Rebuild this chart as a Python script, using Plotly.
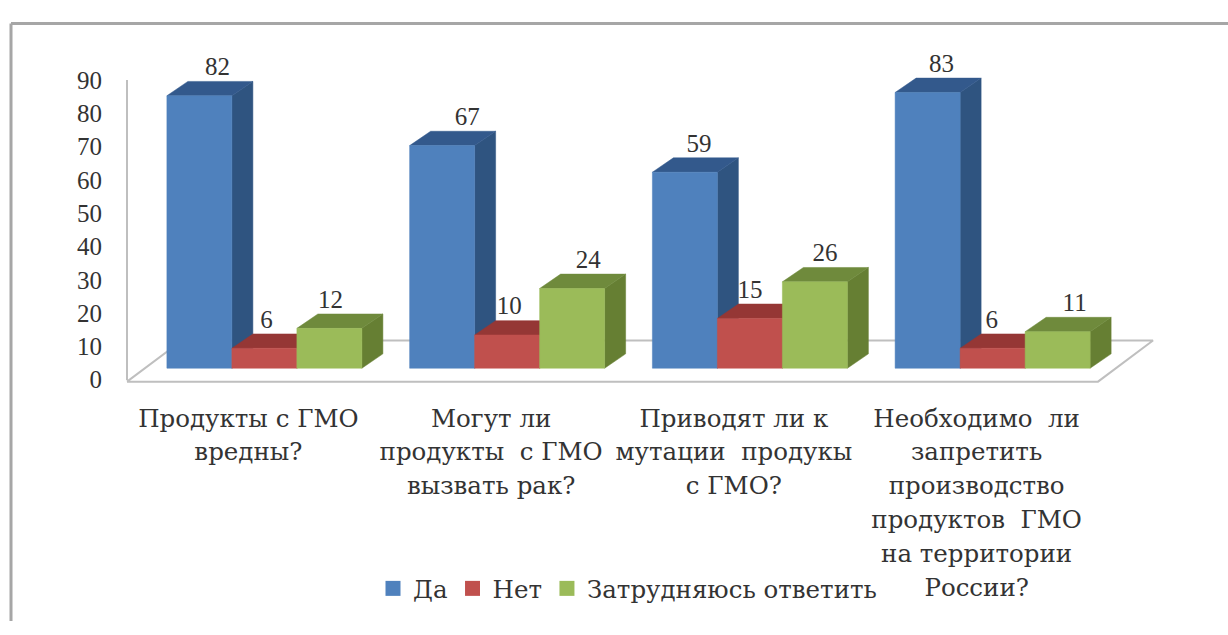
import plotly.graph_objects as go

categories = [
    ["Продукты с ГМО", "вредны?"],
    ["Могут ли", "продукты  с ГМО", "вызвать рак?"],
    ["Приводят ли к", "мутации  продукы", "с ГМО?"],
    ["Необходимо  ли", "запретить", "производство", "продуктов  ГМО", "на территории", "России?"],
]
series_names = ["Да", "Нет", "Затрудняюсь ответить"]
da = [82, 67, 59, 83]
net = [6, 10, 15, 6]
zatr = [12, 24, 26, 11]
y_ticks = [0, 10, 20, 30, 40, 50, 60, 70, 80, 90]

W, H = 1228, 635
PX_X = 242.75      # pixels per category
PX_Y = 3.47        # pixels per value unit
AX_LEFT, AX_BASE, AX_TOP = 127, 383, 70
BAR_BASE = 371
FONT = "Liberation Serif"
TEXT_FONT = "DejaVu Serif"
TEXT_COLOR = "#333333"
GRID = "#bfbfbf"

x_lo = -0.5 - AX_LEFT / PX_X
x_hi = x_lo + W / PX_X
y2_lo = -(H - BAR_BASE) / PX_Y
y2_hi = BAR_BASE / PX_Y

bar_w = 65 / PX_X
group_shift = 16 / PX_X
depth_x, depth_y = 21 / PX_X, 15 / PX_Y
floor_dx, floor_dy = 55 / PX_X, 43 / PX_Y
floor_y = -(385 - BAR_BASE) / PX_Y

styles = [
    dict(front="#4f81bd", top="#33598c", side="#2f5480"),
    dict(front="#c0504d", top="#953735", side="#8c3532"),
    dict(front="#9bbb59", top="#6f8a3c", side="#667f33"),
]
label_dx = [[18, 25, 14, 14], [2, 2, 0, -1], [1, 16, 10, 17]]
LABEL_DY = 28

fig = go.Figure()

# carrier of the left value axis
fig.add_trace(go.Scatter(x=[None], y=[None], xaxis="x", yaxis="y", mode="markers",
                         showlegend=False, hoverinfo="skip"))

# floor
fx = [-0.5, 3.5, 3.5 + floor_dx, -0.5 + floor_dx, -0.5]
fy = [floor_y, floor_y, floor_y + floor_dy, floor_y + floor_dy, floor_y]
fig.add_trace(go.Scatter(x=fx, y=fy, xaxis="x", yaxis="y2", mode="lines", fill="toself",
                         fillcolor="white", line=dict(color=GRID, width=2),
                         showlegend=False, hoverinfo="skip"))


def polys(values, s, face):
    xs, ys = [], []
    for i, v in enumerate(values):
        x0 = i + group_shift + (s - 1.5) * bar_w
        x1 = x0 + bar_w
        if face == "front":
            px, py = [x0, x1, x1, x0, x0], [0, 0, v, v, 0]
        elif face == "top":
            px = [x0, x1, x1 + depth_x, x0 + depth_x, x0]
            py = [v, v, v + depth_y, v + depth_y, v]
        else:
            px = [x1, x1 + depth_x, x1 + depth_x, x1, x1]
            py = [0, depth_y, v + depth_y, v, 0]
        xs += px + [None]
        ys += py + [None]
    return xs, ys


for s, (name, vals) in enumerate(zip(series_names, [da, net, zatr])):
    for face in ("side", "top", "front"):
        xs, ys = polys(vals, s, face)
        c = styles[s][face]
        fig.add_trace(go.Scatter(x=xs, y=ys, xaxis="x", yaxis="y2", mode="lines", fill="toself",
                                 fillcolor=c, line=dict(color=c, width=0.5),
                                 name=name, showlegend=False, hoverinfo="skip"))

# data labels
for s, vals in enumerate([da, net, zatr]):
    xs = [i + group_shift + (s - 1) * bar_w + label_dx[s][i] / PX_X for i in range(4)]
    ys = [v + LABEL_DY / PX_Y for v in vals]
    fig.add_trace(go.Scatter(x=xs, y=ys, xaxis="x", yaxis="y2", mode="text",
                             text=[str(v) for v in vals], textposition="middle center",
                             textfont=dict(family=FONT, size=25, color=TEXT_COLOR),
                             showlegend=False, hoverinfo="skip"))

# legend entries
for s, name in enumerate(series_names):
    fig.add_trace(go.Scatter(x=[None], y=[None], xaxis="x", yaxis="y2", mode="markers", name=name,
                             marker=dict(symbol="square", size=15, color=styles[s]["front"])))


def tick_text(lines):
    return "<br>".join('<span style="font-size:24.5px">%s</span>' % ln.replace("  ", "\u00a0\u00a0")
                       for ln in lines)


fig.update_layout(
    width=W, height=H,
    margin=dict(l=0, r=0, t=0, b=0),
    paper_bgcolor="white", plot_bgcolor="rgba(0,0,0,0)",
    font=dict(family=FONT, size=25, color=TEXT_COLOR),
    xaxis=dict(range=[x_lo, x_hi], domain=[0, 1], tickmode="array", tickvals=[0, 1, 2, 3],
               ticktext=[tick_text(c) for c in categories], showgrid=False, zeroline=False,
               showline=False, ticks="", anchor="free", position=(H - 385) / H,
               ticklabelstandoff=18, tickangle=0,
               tickfont=dict(family=TEXT_FONT, size=26, color=TEXT_COLOR)),
    yaxis=dict(range=[0, 90], domain=[(H - AX_BASE) / H, (H - AX_TOP) / H], tickmode="array",
               tickvals=y_ticks, showgrid=False, zeroline=False, showline=True, linecolor=GRID,
               linewidth=2, ticks="", anchor="free", position=AX_LEFT / W, ticklabelstandoff=19,
               tickfont=dict(family=FONT, size=25, color=TEXT_COLOR)),
    yaxis2=dict(range=[y2_lo, y2_hi], domain=[0, 1], visible=False, anchor="x"),
    legend=dict(orientation="h", x=373 / W, xanchor="left", y=(H - 601) / H, yanchor="middle",
                font=dict(family=TEXT_FONT, size=24.5, color=TEXT_COLOR), bgcolor="rgba(0,0,0,0)",
                itemwidth=30, traceorder="normal"),
    shapes=[
        dict(type="line", xref="paper", yref="paper", x0=11 / W, x1=1, y0=(H - 11) / H, y1=(H - 11) / H,
             line=dict(color="#a6a6a6", width=3)),
        dict(type="line", xref="paper", yref="paper", x0=11 / W, x1=11 / W, y0=0, y1=(H - 11) / H,
             line=dict(color="#a6a6a6", width=3)),
    ],
)

fig.write_html("out.html", config=dict(displayModeBar=False),
               post_script="document.body.style.margin='0';")
